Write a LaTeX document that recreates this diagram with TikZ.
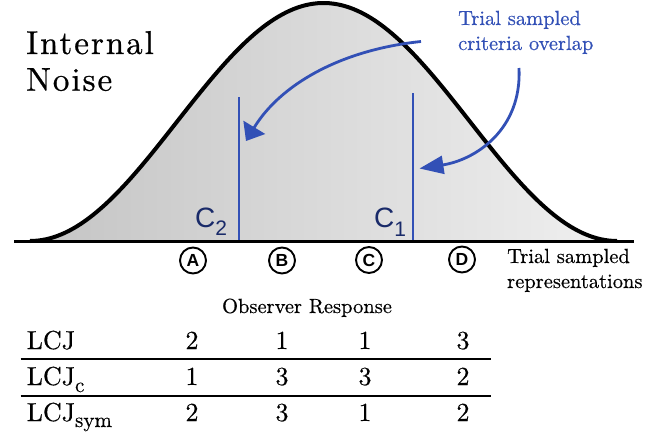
\documentclass[tikz,border=0pt]{standalone}
\usepackage{fontspec}
\setmainfont{lmroman10}[Extension=.otf, UprightFont=*-regular, BoldFont=*-bold, ItalicFont=*-italic, BoldItalicFont=*-bolditalic, FakeBold=0.4]
\newfontfamily\titlefont{lmroman10}[Extension=.otf, UprightFont=*-regular, LetterSpace=6, FakeBold=0.7]
\newfontfamily\hel{Liberation Sans}
\usetikzlibrary{arrows.meta}
\definecolor{lineblue}{RGB}{50,80,182}
\definecolor{labelblue}{RGB}{25,42,105}
\definecolor{fillL}{RGB}{196,196,196}
\definecolor{fillR}{RGB}{240,240,240}
\begin{document}
\begin{tikzpicture}[x=1pt,y=-1pt,
  crit/.style={draw=lineblue, line width=2.8pt},
  pointer/.style={draw=lineblue, line width=2.8pt},
  clabel/.style={text=labelblue, font=\hel\fontsize{28}{28}\selectfont, anchor=base west, inner sep=0},
  circ/.style={circle, draw, line width=1.9pt, minimum size=26pt, inner sep=0, font=\hel\bfseries\fontsize{17.5}{17.5}\selectfont},
  ser/.style={font=\fontsize{20.5}{25}\selectfont, anchor=base west, inner sep=0},
  cell/.style={font=\fontsize{26}{26}\selectfont, anchor=base, inner sep=0},
  rowlab/.style={font=\fontsize{26}{26}\selectfont, anchor=base west, inner sep=0},
  tabrule/.style={line width=1.6pt},
  title/.style={font=\titlefont\fontsize{33}{33}\selectfont, anchor=base west, inner sep=0}
]
\useasboundingbox (0,0) rectangle (660,436);
\fill[white] (0,0) rectangle (660,436);
% bell curve
\shade[left color=fillL, right color=fillR]
  plot[domain=30:617, samples=150] (\x, {241-119*(1+cos(0.613288*(\x-323.5)))}) -- cycle;
\draw[line width=4pt, line join=round]
  plot[domain=30:617, samples=150] (\x, {241-119*(1+cos(0.613288*(\x-323.5)))});
% axis
\coordinate (axL) at (14,241.5);
\coordinate (axR) at (634,241.5);
\draw[line width=3.2pt] (axL) -- (axR);
% criteria
\coordinate (c2top) at (239,97);
\coordinate (c2bot) at (239,240);
\coordinate (c1top) at (413,93);
\coordinate (c1bot) at (413,240);
\draw[crit] (c2top) -- (c2bot);
\draw[crit] (c1top) -- (c1bot);
\node[clabel] (c2l) at (195,227.7) {C\raisebox{-8pt}{\fontsize{21}{21}\selectfont 2}};
\node[clabel] (c1l) at (374,227.5) {C\raisebox{-9pt}{\fontsize{21}{21}\selectfont 1}};
% arrows
\coordinate (a1s) at (421,41.5);
\coordinate (a1e) at (246,141);
\coordinate (a2s) at (519,68);
\coordinate (a2e) at (419.5,168.5);
\draw[pointer, -{Triangle[length=16pt, width=25pt]}] (a1s) .. controls (340,50) and (280,85) .. (a1e);
\draw[pointer, -{Triangle[length=24pt, width=18pt]}] (a2s) .. controls (522,130) and (475,160) .. (a2e);
% texts
\node[title] (internal) at (26,54) {Internal};
\node[title] (noise) at (26,90.7) {Noise};
\node[ser, text=lineblue] (ov1) at (458,25) {Trial sampled};
\node[ser, text=lineblue] (ov2) at (458,50) {criteria overlap};
\node[ser] (rep1) at (507,263) {Trial sampled};
\node[ser] (rep2) at (507,288) {representations};
% circled letters
\node[circ] (A) at (193,260.5) {A};
\node[circ] (B) at (282,260.5) {B};
\node[circ] (C) at (369,260) {C};
\node[circ] (D) at (462,259.5) {D};
% table
\node[font=\fontsize{20.5}{20.5}\selectfont, anchor=base, inner sep=0] (obs) at (307,313) {Observer Response};
\node[rowlab] (r1) at (26.5,349) {LCJ};
\node[rowlab] (r2) at (26.5,385) {LCJ\raisebox{-7pt}{\fontsize{21}{21}\selectfont c}};
\node[rowlab] (r3) at (26.5,421) {LCJ\raisebox{-6pt}{\fontsize{21}{21}\selectfont sym}};
\node[cell] (r1a) at (192,349) {2};
\node[cell] (r1b) at (282,349) {1};
\node[cell] (r1c) at (365,349) {1};
\node[cell] (r1d) at (463,349) {3};
\node[cell] (r2a) at (192,385) {1};
\node[cell] (r2b) at (282,385) {3};
\node[cell] (r2c) at (365,385) {3};
\node[cell] (r2d) at (463,385) {2};
\node[cell] (r3a) at (192,421) {2};
\node[cell] (r3b) at (282,421) {3};
\node[cell] (r3c) at (365,421) {1};
\node[cell] (r3d) at (463,421) {2};
\coordinate (h1L) at (20.7,359);
\coordinate (h1R) at (490.7,359);
\coordinate (h2L) at (20.7,395.7);
\coordinate (h2R) at (490.7,395.7);
\draw[tabrule] (h1L) -- (h1R);
\draw[tabrule] (h2L) -- (h2R);
\end{tikzpicture}
\end{document}
